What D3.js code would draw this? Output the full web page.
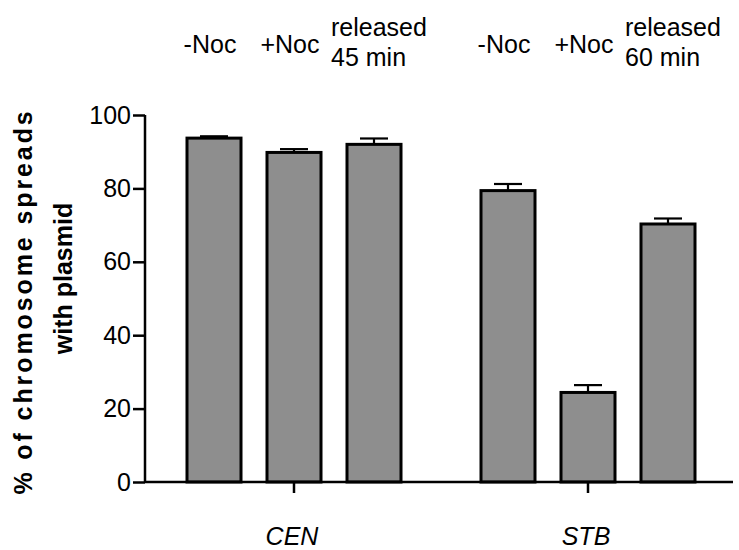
<!DOCTYPE html>
<html>
<head>
<meta charset="utf-8">
<script src="https://cdn.jsdelivr.net/npm/d3@7"></script>
<style>
  html, body { margin: 0; padding: 0; background: #fff; }
  svg { display: block; }
  text { font-family: "Liberation Sans", Arial, Helvetica, sans-serif; fill: #000; }
</style>
</head>
<body>
<svg id="chart" width="739" height="550"></svg>
<script>
// ---- data ----
const groups = ["CEN", "STB"];
const conditions = ["-Noc", "+Noc", "released"];
const conditionLabels = {
  CEN: [["-Noc"], ["+Noc"], ["released", "45 min"]],
  STB: [["-Noc"], ["+Noc"], ["released", "60 min"]]
};
const cenValues = [93.7, 89.8, 92.0];
const cenErrors = [0.5, 0.9, 1.6];
const stbValues = [79.4, 24.4, 70.3];
const stbErrors = [1.8, 2.0, 1.5];
const yTicks = [0, 20, 40, 60, 80, 100];
const yTitle = ["% of chromosome spreads", "with plasmid"];

const data = [];
groups.forEach(g => {
  const vals = g === "CEN" ? cenValues : stbValues;
  const errs = g === "CEN" ? cenErrors : stbErrors;
  conditions.forEach((c, i) => data.push({ group: g, cond: c, i, value: vals[i], err: errs[i], label: conditionLabels[g][i] }));
});

// ---- layout ----
const svg = d3.select("#chart");
const axisX = 145, baseY = 482, topY = 115, rightX = 733;

const y = d3.scaleLinear().domain([0, 100]).range([baseY, topY]);
const x0 = d3.scaleBand().domain(groups).range([axisX + 2, rightX + 2]);
const x1 = d3.scaleBand().domain(d3.range(conditions.length))
  .range([-120, 120]).paddingInner(0.325).paddingOuter(0.1625);
const barX = d => x0(d.group) + x0.bandwidth() / 2 + x1(d.i);
const barC = d => barX(d) + x1.bandwidth() / 2;

// bars
svg.append("g").selectAll("rect").data(data).join("rect")
  .attr("x", barX)
  .attr("y", d => y(d.value))
  .attr("width", x1.bandwidth())
  .attr("height", d => y(0) - y(d.value))
  .attr("fill", "#8e8e8e")
  .attr("stroke", "#000")
  .attr("stroke-width", 3);

// error bars (upper only)
const eb = svg.append("g").attr("stroke", "#000").attr("stroke-width", 2.2);
eb.selectAll("line.v").data(data).join("line").attr("class", "v")
  .attr("x1", barC).attr("x2", barC)
  .attr("y1", d => y(d.value)).attr("y2", d => y(d.value + d.err));
eb.selectAll("line.c").data(data).join("line").attr("class", "c")
  .attr("x1", d => barC(d) - 14).attr("x2", d => barC(d) + 14)
  .attr("y1", d => y(d.value + d.err)).attr("y2", d => y(d.value + d.err));

// y axis
const yAxis = svg.append("g").attr("transform", `translate(${axisX},0)`)
  .call(d3.axisLeft(y).tickValues(yTicks).tickSize(12).tickPadding(2));
yAxis.select(".domain").attr("stroke-width", 2.5).attr("d", `M0,${topY}V${baseY}`);
yAxis.selectAll(".tick line").attr("stroke-width", 2.5);
yAxis.selectAll(".tick text").attr("font-size", 25)
  .attr("font-family", "Liberation Sans, Arial, sans-serif");

// x axis
const xAxis = svg.append("g").attr("transform", `translate(0,${baseY})`)
  .call(d3.axisBottom(x0).tickSize(11).tickPadding(34));
xAxis.select(".domain").attr("stroke-width", 2.5).attr("d", `M${axisX},0H${rightX}`);
xAxis.selectAll(".tick line").attr("stroke-width", 2.5);
xAxis.selectAll(".tick text").attr("font-size", 25).attr("font-style", "italic")
  .attr("font-family", "Liberation Sans, Arial, sans-serif")
  .attr("dx", -2);

// top condition labels
const lbl = svg.append("g").selectAll("text").data(data).join("text")
  .attr("font-size", 25)
  .attr("text-anchor", d => d.label.length > 1 ? "start" : "middle")
  .attr("transform", d => d.label.length > 1
    ? `translate(${barC(d) - 43},36)`
    : `translate(${barC(d) - 4},53)`);
lbl.selectAll("tspan").data(d => d.label).join("tspan")
  .attr("x", 0).attr("dy", (d, i) => i ? 30 : 0).text(d => d);

// y title (two rotated lines)
svg.append("g").selectAll("text").data(yTitle).join("text")
  .attr("transform", (d, i) => i === 0
    ? `translate(32,${(topY + baseY) / 2 + 3}) rotate(-90)`
    : `translate(72,${(topY + baseY) / 2 - 20}) rotate(-90)`)
  .attr("text-anchor", "middle")
  .attr("font-weight", "bold")
  .attr("font-size", 25)
  .attr("letter-spacing", (d, i) => i === 0 ? 2.9 : 0)
  .text(d => d);
</script>
</body>
</html>
